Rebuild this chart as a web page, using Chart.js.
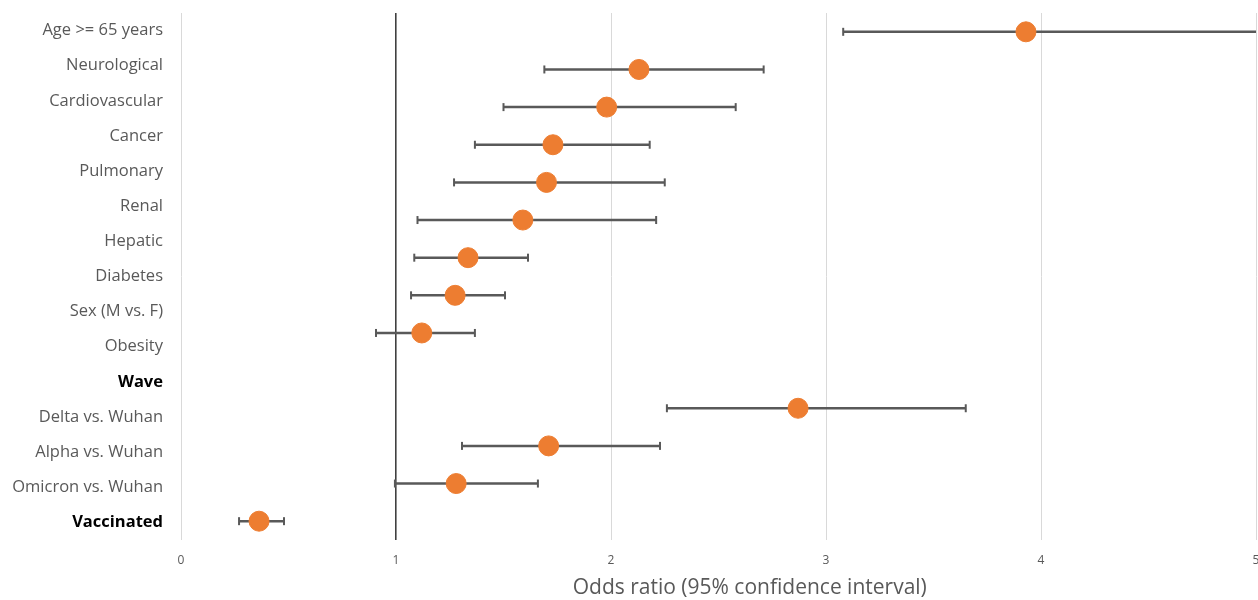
<!DOCTYPE html>
<html lang="en">
<head>
<meta charset="UTF-8">
<title>Odds ratio forest plot</title>
<script src="https://cdn.jsdelivr.net/npm/chart.js@4.4.1/dist/chart.umd.min.js"></script>
<style>
  html, body { margin: 0; background: #fff; overflow: hidden; }
  .wrap { position: relative; width: 1258px; height: 600px; }
  canvas { display: block; }
</style>
</head>
<body>
<div class="wrap"><canvas id="forest"></canvas></div>
<script>
  // labels on the left (15 of them)
  const rowLabels = ['Age >= 65 years', 'Neurological', 'Cardiovascular', 'Cancer', 'Pulmonary',
    'Renal', 'Hepatic', 'Diabetes', 'Sex (M vs. F)', 'Obesity', 'Wave',
    'Delta vs. Wuhan', 'Alpha vs. Wuhan', 'Omicron vs. Wuhan', 'Vaccinated'];
  const boldLabels = ['Wave', 'Vaccinated'];

  // plotted rows (14 slots, slot 10 empty)
  const oddsRatio = [3.93, 2.13, 1.98, 1.73, 1.70, 1.59, 1.335, 1.275, 1.12, null, 2.87, 1.71, 1.28, 0.363];
  const ciLow     = [3.08, 1.69, 1.50, 1.367, 1.27, 1.10, 1.085, 1.07, 0.907, null, 2.26, 1.307, 0.995, 0.27];
  const ciHigh    = [5.5, 2.71, 2.58, 2.18, 2.25, 2.21, 1.614, 1.507, 1.367, null, 3.65, 2.228, 1.66, 0.479];

  const xTicks = [0, 1, 2, 3, 4, 5];
  const xTitle = 'Odds ratio (95% confidence interval)';

  const points = [];
  oddsRatio.forEach((v, i) => {
    if (v !== null) points.push({ x: v, y: i + 1, lo: ciLow[i], hi: ciHigh[i] });
  });

  // error bars, drawn under the dots
  const errorBars = {
    id: 'errorBars',
    beforeDatasetsDraw(chart) {
      const ctx = chart.ctx;
      const xs = chart.scales.x;
      const ys = chart.scales.yp;
      const area = chart.chartArea;
      ctx.save();
      ctx.beginPath();
      ctx.rect(area.left - 5, area.top, area.right - area.left + 5, area.bottom - area.top);
      ctx.clip();
      ctx.strokeStyle = '#595959';
      points.forEach(p => {
        const y = ys.getPixelForValue(p.y);
        const x1 = xs.getPixelForValue(p.lo);
        const x2 = xs.getPixelForValue(p.hi);
        ctx.lineWidth = 2.5;
        ctx.beginPath();
        ctx.moveTo(x1, y);
        ctx.lineTo(x2, y);
        ctx.stroke();
        ctx.lineWidth = 2;
        [x1, x2].forEach(x => {
          ctx.beginPath();
          ctx.moveTo(x, y - 4);
          ctx.lineTo(x, y + 4);
          ctx.stroke();
        });
      });
      ctx.restore();
    }
  };

  // axis title, sits a bit right of centre like the original
  const axisTitle = {
    id: 'axisTitle',
    afterDraw(chart) {
      const ctx = chart.ctx;
      ctx.save();
      ctx.font = '21px "Open Sans"';
      ctx.fillStyle = '#595959';
      ctx.textAlign = 'center';
      ctx.textBaseline = 'middle';
      ctx.fillText(xTitle, chart.width * 0.596, chart.height - 12);
      ctx.restore();
    }
  };

  // let the plot run almost to the right edge (the "5" label may overhang)
  const fitRight = {
    id: 'fitRight',
    afterLayout(chart) {
      const xs = chart.scales.x;
      const right = chart.width - 2;
      xs.right = right;
      xs.width = right - xs.left;
      chart.chartArea.right = right;
      chart.chartArea.width = right - chart.chartArea.left;
      xs.configure();
    }
  };

  // stop the scales from reserving room for overhanging labels
  function noPadding(s) {
    s.paddingLeft = 0;
    s.paddingRight = 0;
    s.paddingTop = 0;
    s.paddingBottom = 0;
  }

  new Chart('forest', {
    type: 'scatter',
    data: {
      datasets: [{
        data: points,
        yAxisID: 'yp',
        backgroundColor: '#ED7D31',
        borderColor: '#ED7D31',
        pointRadius: 10,
        pointHoverRadius: 10
      }]
    },
    options: {
      responsive: true,
      maintainAspectRatio: false,
      animation: false,
      layout: { padding: { top: 13, right: 2, left: 0, bottom: 0 } },
      plugins: {
        legend: { display: false },
        tooltip: { enabled: false }
      },
      scales: {
        x: {
          type: 'linear',
          min: 0,
          max: 5,
          afterBuildTicks: s => { s.ticks = xTicks.map(v => ({ value: v })); },
          afterFit: s => { s.height = 60; noPadding(s); },
          border: { display: false },
          grid: {
            drawTicks: true,
            tickLength: 13,
            tickColor: 'rgba(0,0,0,0)',
            color: c => c.tick && c.tick.value === 1 ? '#404040' : '#d9d9d9',
            lineWidth: c => c.tick && c.tick.value === 1 ? 1.6 : 1
          },
          ticks: {
            padding: 0,
            color: '#595959',
            font: { family: 'Open Sans', size: 12 }
          }
        },
        y: {
          type: 'category',
          position: 'left',
          labels: rowLabels,
          offset: true,
          afterFit: s => { s.width = 181; noPadding(s); },
          border: { display: false },
          grid: { display: false, drawTicks: false },
          ticks: {
            padding: 18,
            autoSkip: false,
            color: c => boldLabels.includes(rowLabels[c.index]) ? '#000000' : '#595959',
            font: c => ({
              family: 'Open Sans',
              size: 16.5,
              weight: boldLabels.includes(rowLabels[c.index]) ? 'bold' : 'normal'
            })
          }
        },
        yp: {
          type: 'linear',
          display: false,
          reverse: true,
          min: 0.5,
          max: 14.5
        }
      }
    },
    plugins: [fitRight, errorBars, axisTitle]
  });
</script>
</body>
</html>
